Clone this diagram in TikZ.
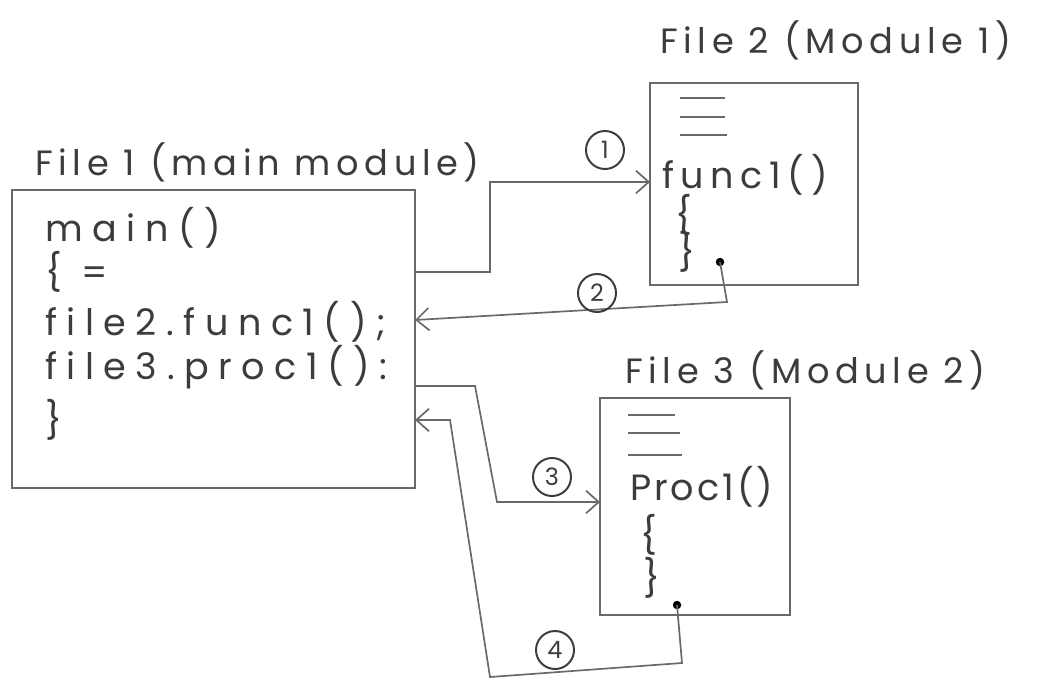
\documentclass[tikz,border=0pt]{standalone}
\usepackage{fontspec}
\setmainfont{Poppins}
\newfontfamily\hand[LetterSpace=26]{Poppins}
\newfontfamily\handb[LetterSpace=18]{Poppins}
\newfontfamily\handc[LetterSpace=8]{Poppins}
\newfontfamily\handt[LetterSpace=16]{Poppins}
\usetikzlibrary{arrows.meta}
\definecolor{pencil}{RGB}{105,105,105}
\definecolor{ink}{RGB}{60,60,60}
\tikzset{
  box/.style={draw=pencil, line width=1.3pt, inner sep=0pt, outer sep=0pt},
  wire/.style={draw=pencil, line width=1.2pt},
  arr/.style={wire, -{Straight Barb[length=9pt,width=16pt]}},
  code/.style={anchor=west, inner sep=0pt, text=ink, font=\hand\fontsize{26}{30}\selectfont},
  codeb/.style={code, font=\handb\fontsize{26}{30}\selectfont},
  codec/.style={code, font=\handc\fontsize{26}{30}\selectfont},
  title/.style={anchor=west, inner sep=0pt, text=ink, font=\handt\fontsize{25}{29}\selectfont},
  num/.style={circle, draw=ink, line width=1.4pt, inner sep=1pt, minimum size=0.95cm, text=ink, font=\fontsize{17}{19}\selectfont},
  dot/.style={circle, fill=black, inner sep=0pt, minimum size=6pt}
}
\begin{document}
\begin{tikzpicture}[x=0.025cm,y=-0.025cm]
\useasboundingbox[fill=white] (0,0) rectangle (1044,679);

% boxes
\node[box, minimum width=10.075cm, minimum height=7.45cm] (f1) at (213.5,339) {};
\node[box, minimum width=5.2cm, minimum height=5.05cm] (f2) at (754,184) {};
\node[box, minimum width=4.75cm, minimum height=5.425cm] (f3) at (695,506.5) {};

% titles
\node[title] (t1) at (35,162) {File 1 (main module)};
\node[title] (t2) at (660,40) {File 2 (Module 1)};
\node[title] (t3) at (625,370) {File 3 (Module 2)};

% file 1 code
\node[code] (m1) at (45,228) {main()};
\node[code] (m2) at (45,272) {\{ =};
\node[code] (m3) at (45,322) {file2.func1();};
\node[code] (m4) at (45,367) {file3.proc1():};
\node[code] (m5) at (45,420) {\}};

% file 2 code
\draw[wire] (680,98) -- (725,98);
\draw[wire] (680,117) -- (725,117);
\draw[wire] (680,135) -- (727,135);
\node[codeb] (a1) at (662,175) {func1()};
\node[code] (a2) at (675,215) {\{};
\node[code] (a3) at (678,252) {\}};

% file 3 code
\draw[wire] (628,415) -- (675,415);
\draw[wire] (628,433) -- (680,433);
\draw[wire] (628,455) -- (682,455);
\node[codec] (b1) at (630,487) {Proc1()};
\node[code] (b2) at (640,535) {\{};
\node[code] (b3) at (643,578) {\}};

% start dots
\node[dot] (d2) at (720,262) {};
\node[dot] (d4) at (677,605) {};
\coordinate (c2) at (727,302);
\coordinate (c4) at (682,663);
\coordinate (c4b) at (490,677);

% connectors
\draw[arr] (f1.east |- 0,272) -- (490,272) -- (490,182) -- (f2.west |- 0,182);
\draw[arr] (d2.center) -- (c2) -- (f1.east |- 0,320);
\draw[arr] (f1.east |- 0,386) -- (475,386) -- (497,502) -- (f3.west |- 0,502);
\draw[arr] (d4.center) -- (c4) -- (c4b) -- (450,420) -- (f1.east |- 0,420);

% numbers
\node[num] (n1) at (605,150) {1};
\node[num] (n2) at (597,293) {2};
\node[num] (n3) at (552,477) {3};
\node[num] (n4) at (555,650) {4};
\end{tikzpicture}
\end{document}
